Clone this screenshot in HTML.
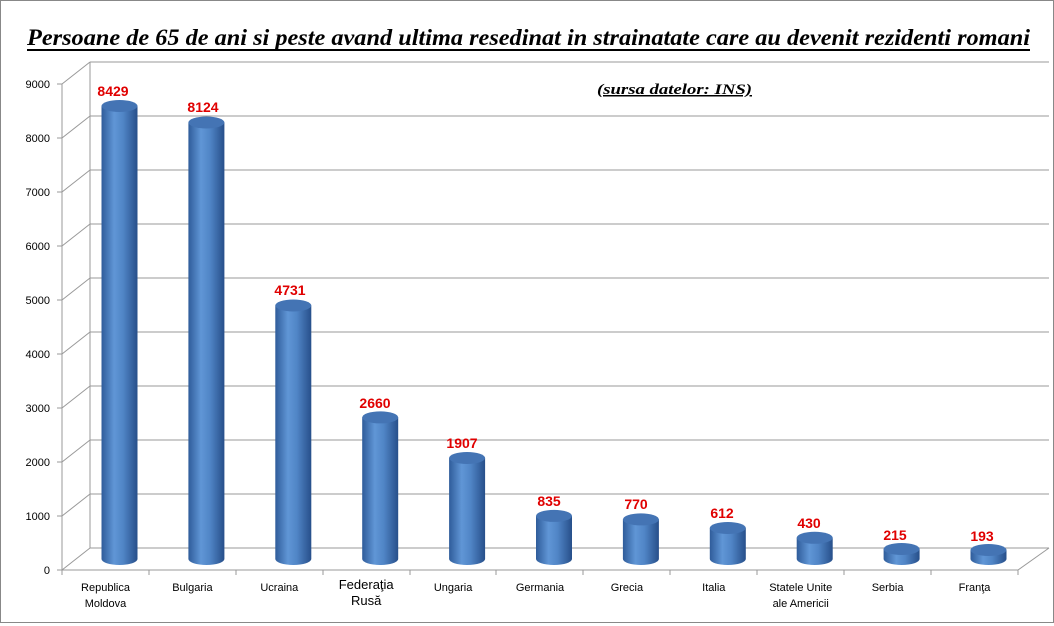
<!DOCTYPE html>
<html><head><meta charset="utf-8"><style>
html,body{margin:0;padding:0;background:#fff}
svg{display:block}
.c{font-family:"Liberation Sans",sans-serif;font-size:11px;fill:#000;text-anchor:middle}
.v{font-family:"Liberation Sans",sans-serif;font-size:14px;font-weight:bold;fill:#e00000;text-anchor:middle}
.y{font-family:"Liberation Sans",sans-serif;font-size:11px;fill:#000;text-anchor:end}
</style></head><body>
<svg width="1054" height="626" viewBox="0 0 1054 626" xmlns="http://www.w3.org/2000/svg">
<defs>
<linearGradient id="g" x1="0" x2="1" y1="0" y2="0">
<stop offset="0" stop-color="#2f5c9a"/><stop offset="0.35" stop-color="#6096d6"/><stop offset="0.6" stop-color="#5085c6"/><stop offset="1" stop-color="#274f8a"/>
</linearGradient>
</defs>
<rect x="0.5" y="0.5" width="1053" height="622" fill="#fff" stroke="#888"/>
<text x="27" y="45" textLength="1003" lengthAdjust="spacingAndGlyphs" style="font-family:'Liberation Serif',serif;font-size:23px;font-weight:bold;font-style:italic">Persoane de 65 de ani si peste avand ultima resedinat in strainatate care au devenit rezidenti romani</text>
<line x1="27" y1="50" x2="1030" y2="50" stroke="#000" stroke-width="2"/>
<text x="597" y="94" textLength="155" lengthAdjust="spacingAndGlyphs" style="font-family:'Liberation Serif',serif;font-size:15px;font-weight:bold;font-style:italic;text-decoration:underline">(sursa datelor: INS)</text>
<g stroke="#999" stroke-width="1" fill="none">
<path d="M90 548H1049M90 494H1049M90 440H1049M90 386H1049M90 332H1049M90 278H1049M90 224H1049M90 170H1049M90 116H1049M90 62H1049"/>
<path d="M62 570L90 548M62 516L90 494M62 462L90 440M62 408L90 386M62 354L90 332M62 300L90 278M62 246L90 224M62 192L90 170M62 138L90 116M62 84L90 62"/>
<path d="M90 62V548M62 84V570H1018L1049 548"/>
<path d="M57 570H62M57 516H62M57 462H62M57 408H62M57 354H62M57 300H62M57 246H62M57 192H62M57 138H62M57 84H62"/>
<path d="M62 570V575M149 570V575M236 570V575M323 570V575M410 570V575M496 570V575M583 570V575M670 570V575M757 570V575M844 570V575M931 570V575M1018 570V575"/>
</g>
<g>
<text class="y" x="50" y="574">0</text><text class="y" x="50" y="520">1000</text><text class="y" x="50" y="466">2000</text><text class="y" x="50" y="412">3000</text><text class="y" x="50" y="358">4000</text><text class="y" x="50" y="304">5000</text><text class="y" x="50" y="250">6000</text><text class="y" x="50" y="196">7000</text><text class="y" x="50" y="142">8000</text><text class="y" x="50" y="88">9000</text>
</g>
<g fill="url(#g)">
<path d="M101.5 106V559A18 6 0 0 0 137.5 559V106Z"/><ellipse cx="119.5" cy="106" rx="18" ry="6" fill="#4474b4"/>
<path d="M188.4 122.5V559A18 6 0 0 0 224.4 559V122.5Z"/><ellipse cx="206.4" cy="122.5" rx="18" ry="6" fill="#4474b4"/>
<path d="M275.3 305.5V559A18 6 0 0 0 311.3 559V305.5Z"/><ellipse cx="293.3" cy="305.5" rx="18" ry="6" fill="#4474b4"/>
<path d="M362.2 417.4V559A18 6 0 0 0 398.2 559V417.4Z"/><ellipse cx="380.2" cy="417.4" rx="18" ry="6" fill="#4474b4"/>
<path d="M449.1 458V559A18 6 0 0 0 485.1 559V458Z"/><ellipse cx="467.1" cy="458" rx="18" ry="6" fill="#4474b4"/>
<path d="M536 515.9V559A18 6 0 0 0 572 559V515.9Z"/><ellipse cx="554" cy="515.9" rx="18" ry="6" fill="#4474b4"/>
<path d="M622.9 519.4V559A18 6 0 0 0 658.9 559V519.4Z"/><ellipse cx="640.9" cy="519.4" rx="18" ry="6" fill="#4474b4"/>
<path d="M709.8 528V559A18 6 0 0 0 745.8 559V528Z"/><ellipse cx="727.8" cy="528" rx="18" ry="6" fill="#4474b4"/>
<path d="M796.7 537.8V559A18 6 0 0 0 832.7 559V537.8Z"/><ellipse cx="814.7" cy="537.8" rx="18" ry="6" fill="#4474b4"/>
<path d="M883.6 549V559A18 6 0 0 0 919.6 559V549Z"/><ellipse cx="901.6" cy="549" rx="18" ry="6" fill="#4474b4"/>
<path d="M970.5 550V559A18 6 0 0 0 1006.5 559V550Z"/><ellipse cx="988.5" cy="550" rx="18" ry="6" fill="#4474b4"/>
</g>
<g>
<text class="v" x="113" y="96">8429</text>
<text class="v" x="203" y="112">8124</text>
<text class="v" x="290" y="295">4731</text>
<text class="v" x="375" y="408">2660</text>
<text class="v" x="462" y="448">1907</text>
<text class="v" x="549" y="506">835</text>
<text class="v" x="636" y="509">770</text>
<text class="v" x="722" y="518">612</text>
<text class="v" x="809" y="528">430</text>
<text class="v" x="895" y="540">215</text>
<text class="v" x="982" y="541">193</text>
</g>
<g>
<text class="c" x="105.5" y="591">Republica</text><text class="c" x="105.5" y="607">Moldova</text>
<text class="c" x="192.4" y="591">Bulgaria</text>
<text class="c" x="279.3" y="591">Ucraina</text>
<text class="c" x="366.2" y="589" style="font-size:13px">Federaţia</text><text class="c" x="366.2" y="605" style="font-size:13px">Rusă</text>
<text class="c" x="453.1" y="591">Ungaria</text>
<text class="c" x="540" y="591">Germania</text>
<text class="c" x="626.9" y="591">Grecia</text>
<text class="c" x="713.8" y="591">Italia</text>
<text class="c" x="800.7" y="591">Statele Unite</text><text class="c" x="800.7" y="607">ale Americii</text>
<text class="c" x="887.6" y="591">Serbia</text>
<text class="c" x="974.5" y="591">Franţa</text>
</g>
</svg>
</body></html>
